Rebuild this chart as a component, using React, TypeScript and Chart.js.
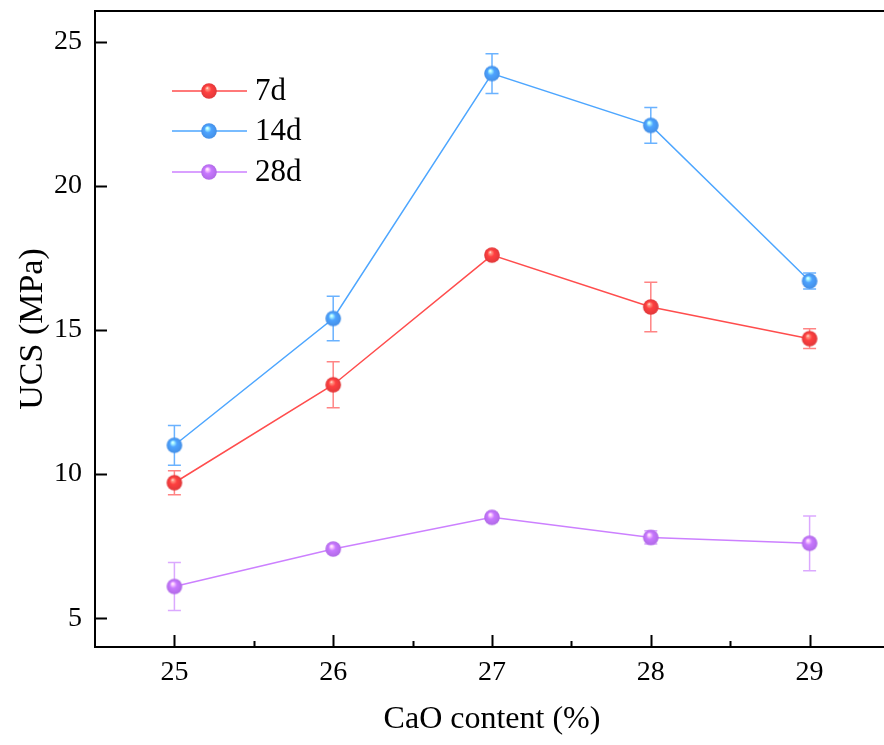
import React, { useEffect, useRef } from "react";
import { Chart, registerables } from "chart.js";

Chart.register(...registerables);

const xValues = [25, 26, 27, 28, 29];
const seriesLabels = ["7d", "14d", "28d"];
const ucs7d = [9.7, 13.1, 17.6, 15.8, 14.7];
const err7d = [0.42, 0.8, 0.15, 0.86, 0.34];
const ucs14d = [11.0, 15.4, 23.9, 22.1, 16.7];
const err14d = [0.69, 0.77, 0.69, 0.62, 0.28];
const ucs28d = [6.1, 7.4, 8.5, 7.8, 7.6];
const err28d = [0.83, 0.12, 0.1, 0.23, 0.95];
const xTickValues = [25, 25.5, 26, 26.5, 27, 27.5, 28, 28.5, 29];
const yTickValues = [5, 10, 15, 20, 25];
const xTitle = "CaO content (%)";
const yTitle = "UCS (MPa)";

const lineColors = ["rgb(255,77,77)", "rgb(77,166,255)", "rgb(204,128,255)"];
const errColors = ["rgba(255,110,110,0.85)", "rgba(90,170,255,0.9)", "rgba(215,160,255,0.9)"];
const baseRGB = [
  [255, 64, 64],
  [77, 163, 255],
  [200, 120, 255],
];

const FONT = "'Liberation Serif', 'Times New Roman', serif";

function makeSphere(rgb: number[], r: number): HTMLCanvasElement {
  const size = Math.ceil(r * 2) + 2;
  const c = document.createElement("canvas");
  c.width = size;
  c.height = size;
  const ctx = c.getContext("2d")!;
  const cx = size / 2;
  const cy = size / 2;
  const [R, G, B] = rgb;
  const g = ctx.createRadialGradient(cx - r * 0.25, cy - r * 0.4, 0, cx, cy, r);
  g.addColorStop(0, "rgba(255,255,255,1)");
  g.addColorStop(0.15, `rgb(${Math.min(255, R + 100)},${Math.min(255, G + 90)},${Math.min(255, B + 70)})`);
  g.addColorStop(0.45, `rgb(${R},${G},${B})`);
  g.addColorStop(1, `rgb(${Math.round(R * 0.88)},${Math.round(G * 0.88)},${Math.round(B * 0.9)})`);
  ctx.fillStyle = g;
  ctx.beginPath();
  ctx.arc(cx, cy, r, 0, Math.PI * 2);
  ctx.fill();
  return c;
}

export default function App() {
  const ref = useRef<HTMLCanvasElement | null>(null);

  useEffect(() => {
    if (!ref.current) return;
    const spheres = baseRGB.map((c) => makeSphere(c, 7.8));
    const values = [ucs7d, ucs14d, ucs28d];
    const errors = [err7d, err14d, err28d];

    const framePlugin = {
      id: "frameAndDecor",
      beforeDatasetsDraw(chart: any) {
        const ctx = chart.ctx;
        const xs = chart.scales.x;
        const ys = chart.scales.y;
        ctx.save();
        values.forEach((vals, i) => {
          ctx.strokeStyle = errColors[i];
          ctx.lineWidth = 1.5;
          vals.forEach((v, j) => {
            const x = xs.getPixelForValue(xValues[j]);
            const yt = ys.getPixelForValue(v + errors[i][j]);
            const yb = ys.getPixelForValue(v - errors[i][j]);
            ctx.beginPath();
            ctx.moveTo(x, yt);
            ctx.lineTo(x, yb);
            ctx.moveTo(x - 6.5, yt);
            ctx.lineTo(x + 6.5, yt);
            ctx.moveTo(x - 6.5, yb);
            ctx.lineTo(x + 6.5, yb);
            ctx.stroke();
          });
        });
        ctx.restore();
      },
      afterDraw(chart: any) {
        const ctx = chart.ctx;
        const a = chart.chartArea;
        const xs = chart.scales.x;
        const ys = chart.scales.y;
        ctx.save();
        ctx.strokeStyle = "#000";
        ctx.lineWidth = 2;
        ctx.strokeRect(a.left, a.top, a.right - a.left, a.bottom - a.top);
        ctx.beginPath();
        xs.ticks.forEach((t: any) => {
          const x = Math.round(xs.getPixelForValue(t.value)) + 0.5;
          const len = Number.isInteger(t.value) ? 12 : 6;
          ctx.moveTo(x, a.bottom);
          ctx.lineTo(x, a.bottom - len);
        });
        ys.ticks.forEach((t: any) => {
          const y = Math.round(ys.getPixelForValue(t.value)) + 0.5;
          ctx.moveTo(a.left, y);
          ctx.lineTo(a.left + 12, y);
        });
        ctx.stroke();

        ctx.fillStyle = "#000";
        ctx.font = `32px ${FONT}`;
        ctx.textAlign = "center";
        ctx.textBaseline = "middle";
        ctx.fillText(xTitle, (a.left + a.right) / 2, 720);
        ctx.save();
        ctx.font = `34px ${FONT}`;
        ctx.translate(33, (a.top + a.bottom) / 2);
        ctx.rotate(-Math.PI / 2);
        ctx.fillText(yTitle, 0, 0);
        ctx.restore();

        const rows = [91, 131, 172];
        seriesLabels.forEach((lab, i) => {
          const y = rows[i];
          ctx.strokeStyle = lineColors[i];
          ctx.lineWidth = 1.5;
          ctx.beginPath();
          ctx.moveTo(172, y);
          ctx.lineTo(247, y);
          ctx.stroke();
          const s = spheres[i];
          ctx.drawImage(s, 209 - s.width / 2, y - s.height / 2);
          ctx.fillStyle = "#000";
          ctx.font = `31px ${FONT}`;
          ctx.textAlign = "left";
          ctx.textBaseline = "middle";
          ctx.fillText(lab, 255, y + 1);
        });
        ctx.restore();
      },
    };

    const chart = new Chart(ref.current, {
      type: "line",
      data: {
        datasets: values.map((vals, i) => ({
          label: seriesLabels[i],
          data: vals.map((v, j) => ({ x: xValues[j], y: v })),
          borderColor: lineColors[i],
          backgroundColor: lineColors[i],
          borderWidth: 1.5,
          pointStyle: spheres[i] as any,
          pointRadius: 8,
          pointHoverRadius: 8,
          tension: 0,
        })),
      },
      options: {
        responsive: false,
        animation: false,
        devicePixelRatio: 1,
        layout: { padding: { top: 11, right: 11, left: 0, bottom: 0 } },
        plugins: { legend: { display: false }, tooltip: { enabled: false } },
        scales: {
          x: {
            type: "linear",
            min: 24.5,
            max: 29.5,
            grid: { display: false, drawTicks: false },
            border: { display: false },
            afterBuildTicks: (s: any) => {
              s.ticks = xTickValues.map((v) => ({ value: v }));
            },
            afterFit: (s: any) => {
              s.height = 98;
              s.paddingLeft = 0;
              s.paddingRight = 0;
              s.paddingTop = 0;
              s.paddingBottom = 0;
            },
            ticks: {
              autoSkip: false,
              maxRotation: 0,
              padding: 9,
              color: "#000",
              font: { family: FONT, size: 28 },
              callback: (v: any) => (Number.isInteger(v) ? String(v) : ""),
            },
          },
          y: {
            type: "linear",
            min: 4.0,
            max: 26.07,
            grid: { display: false, drawTicks: false },
            border: { display: false },
            afterBuildTicks: (s: any) => {
              s.ticks = yTickValues.map((v) => ({ value: v }));
            },
            afterFit: (s: any) => {
              s.width = 95;
              s.paddingLeft = 0;
              s.paddingRight = 0;
              s.paddingTop = 0;
              s.paddingBottom = 0;
            },
            ticks: {
              autoSkip: false,
              padding: 13,
              color: "#000",
              font: { family: FONT, size: 28 },
              callback: (v: any) => String(v),
            },
          },
        },
      },
      plugins: [framePlugin],
    });
    return () => chart.destroy();
  }, []);

  return (
    <div
      style={{
        position: "fixed",
        left: 0,
        top: 0,
        width: 884,
        height: 745,
        overflow: "hidden",
        background: "#fff",
      }}
    >
      <canvas ref={ref} width={900} height={745} style={{ display: "block", width: 900, height: 745 }} />
    </div>
  );
}
